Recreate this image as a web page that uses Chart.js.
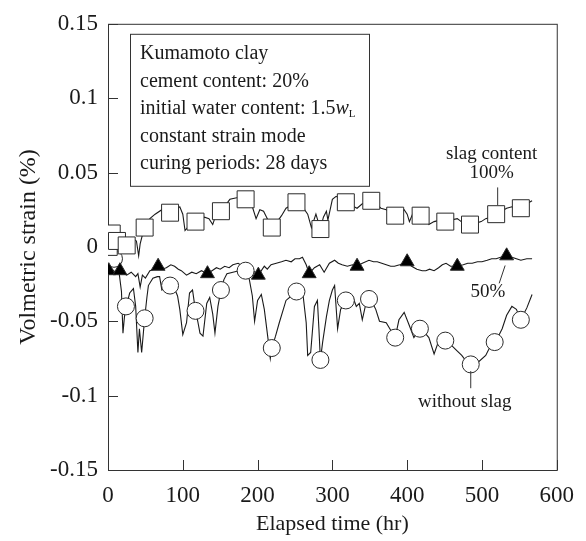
<!DOCTYPE html>
<html>
<head>
<meta charset="utf-8">
<script src="https://cdn.jsdelivr.net/npm/chart.js@4"></script>
<style>
  html, body { margin: 0; padding: 0; background: #fff; }
  #wrap { width: 586px; height: 541px; }
</style>
</head>
<body>
<div id="wrap"><canvas id="strain"></canvas></div>
<script>
// elapsed time (hr) / volumetric strain (%) for each mix
let slag100Hr = [0, 2, 4, 8, 12, 18, 25, 32, 38, 41, 43, 47, 49, 52, 56, 63, 72, 78, 83, 90, 96, 100, 103, 108, 117, 124, 129, 135, 140, 144, 151, 157, 163, 172, 178, 184, 189, 193, 198, 203, 208, 214, 219, 225, 232, 238, 245, 252, 260, 267, 272, 278, 284, 288, 292, 294, 300, 305, 312, 318, 325, 333, 340, 345, 352, 358, 365, 372, 378, 384, 390, 396, 400, 403, 408, 413, 418, 424, 429, 436, 444, 451, 458, 467, 475, 484, 492, 499, 505, 512, 519, 526, 533, 540, 546, 552, 560, 567]
let slag100 = [0.0, 0.004, 0.009, 0.006, 0.004, 0.002, 0.001, 0.006, 0.004, -0.006, 0.002, 0.010, 0.013, 0.014, 0.019, 0.022, 0.025, 0.024, 0.023, 0.025, 0.027, 0.022, 0.011, 0.014, 0.017, 0.018, 0.020, 0.019, 0.015, 0.021, 0.024, 0.028, 0.032, 0.033, 0.034, 0.032, 0.030, 0.027, 0.019, 0.025, 0.024, 0.018, 0.013, 0.016, 0.021, 0.026, 0.028, 0.030, 0.027, 0.022, 0.013, 0.022, 0.012, 0.020, 0.024, 0.018, 0.032, 0.034, 0.032, 0.030, 0.028, 0.026, 0.029, 0.030, 0.031, 0.029, 0.026, 0.025, 0.023, 0.021, 0.023, 0.025, 0.022, 0.017, 0.023, 0.022, 0.021, 0.019, 0.015, 0.017, 0.018, 0.017, 0.018, 0.019, 0.016, 0.015, 0.016, 0.017, 0.019, 0.020, 0.022, 0.024, 0.026, 0.027, 0.025, 0.026, 0.029, 0.031]
let slag100MarkHr = [1, 5, 12, 25, 49, 83, 117, 151, 184, 219, 252, 284, 318, 352, 384, 418, 451, 484, 519, 552]
let slag100Mark = [0.0, 0.009, 0.004, 0.001, 0.013, 0.023, 0.017, 0.024, 0.032, 0.013, 0.030, 0.012, 0.030, 0.031, 0.021, 0.021, 0.017, 0.015, 0.022, 0.026]

let slag50Hr = [0, 1, 5, 10, 16, 22, 25, 31, 37, 40, 43, 46, 50, 56, 62, 67, 72, 78, 84, 89, 94, 98, 105, 112, 118, 125, 133, 139, 145, 150, 156, 162, 167, 174, 180, 187, 194, 201, 209, 213, 218, 225, 232, 238, 245, 250, 256, 260, 265, 269, 276, 283, 289, 296, 303, 308, 313, 320, 327, 333, 340, 349, 355, 360, 366, 372, 378, 383, 390, 395, 400, 406, 413, 420, 425, 430, 436, 442, 447, 452, 458, 467, 475, 481, 487, 494, 500, 507, 513, 519, 525, 533, 540, 546, 552, 560, 567]
let slag50 = [-0.012, -0.016, -0.015, -0.017, -0.016, -0.018, -0.019, -0.017, -0.020, -0.018, -0.027, -0.019, -0.021, -0.016, -0.015, -0.013, -0.015, -0.014, -0.012, -0.013, -0.015, -0.016, -0.019, -0.017, -0.018, -0.016, -0.018, -0.016, -0.014, -0.015, -0.013, -0.014, -0.012, -0.011, -0.013, -0.015, -0.016, -0.019, -0.013, -0.015, -0.012, -0.011, -0.010, -0.009, -0.010, -0.008, -0.008, -0.007, -0.012, -0.018, -0.014, -0.012, -0.017, -0.011, -0.009, -0.011, -0.012, -0.013, -0.012, -0.013, -0.011, -0.009, -0.010, -0.010, -0.011, -0.012, -0.013, -0.013, -0.012, -0.011, -0.010, -0.013, -0.015, -0.016, -0.016, -0.015, -0.016, -0.014, -0.012, -0.011, -0.013, -0.013, -0.012, -0.011, -0.011, -0.010, -0.010, -0.009, -0.008, -0.008, -0.007, -0.006, -0.007, -0.008, -0.009, -0.008, -0.008]
let slag50MarkHr = [1, 16, 67, 133, 201, 269, 333, 400, 467, 533]
let slag50Mark = [-0.016, -0.016, -0.013, -0.018, -0.019, -0.018, -0.013, -0.010, -0.013, -0.006]

let noSlagHr = [0, 4, 8, 12, 15, 18, 20, 22, 24, 27, 29, 34, 37, 40, 42, 45, 49, 52, 54, 60, 66, 69, 72, 77, 83, 89, 93, 96, 100, 105, 109, 113, 117, 120, 123, 127, 132, 136, 140, 143, 147, 151, 155, 159, 167, 175, 184, 189, 193, 196, 200, 205, 209, 214, 217, 219, 224, 229, 238, 245, 252, 260, 265, 267, 271, 276, 280, 282, 284, 287, 292, 296, 300, 303, 307, 311, 318, 323, 327, 332, 336, 340, 344, 349, 354, 358, 363, 372, 378, 384, 389, 396, 403, 409, 417, 424, 429, 436, 443, 451, 459, 465, 473, 479, 485, 490, 496, 505, 512, 517, 522, 527, 533, 540, 546, 552, 556, 560, 567]
let noSlag = [0.0, -0.004, -0.008, -0.012, -0.018, -0.030, -0.058, -0.047, -0.040, -0.035, -0.031, -0.028, -0.040, -0.071, -0.055, -0.071, -0.048, -0.034, -0.026, -0.021, -0.020, -0.020, -0.029, -0.027, -0.026, -0.028, -0.033, -0.042, -0.059, -0.051, -0.031, -0.029, -0.043, -0.050, -0.058, -0.060, -0.038, -0.034, -0.045, -0.058, -0.040, -0.029, -0.022, -0.018, -0.017, -0.016, -0.016, -0.022, -0.033, -0.050, -0.036, -0.032, -0.042, -0.062, -0.075, -0.068, -0.060, -0.051, -0.036, -0.033, -0.030, -0.029, -0.051, -0.073, -0.071, -0.040, -0.036, -0.055, -0.076, -0.064, -0.047, -0.036, -0.029, -0.026, -0.055, -0.042, -0.036, -0.034, -0.033, -0.040, -0.038, -0.049, -0.040, -0.035, -0.038, -0.042, -0.050, -0.051, -0.056, -0.061, -0.049, -0.044, -0.053, -0.061, -0.055, -0.058, -0.061, -0.072, -0.062, -0.063, -0.066, -0.069, -0.073, -0.077, -0.079, -0.078, -0.077, -0.073, -0.066, -0.064, -0.060, -0.055, -0.046, -0.040, -0.042, -0.049, -0.045, -0.041, -0.032]
let noSlagMarkHr = [8, 24, 49, 83, 117, 151, 184, 219, 252, 284, 318, 349, 384, 417, 451, 485, 517, 552]
let noSlagMark = [-0.008, -0.040, -0.048, -0.026, -0.043, -0.029, -0.016, -0.068, -0.030, -0.076, -0.036, -0.035, -0.061, -0.055, -0.063, -0.079, -0.064, -0.049]

let xTicks = [0, 100, 200, 300, 400, 500, 600]
let yTicks = [-0.15, -0.1, -0.05, 0, 0.05, 0.1, 0.15]
let yTickText = ["-0.15", "-0.1", "-0.05", "0", "0.05", "0.1", "0.15"]

let infoLines = ["Kumamoto clay", "cement content: 20%", "initial water content: 1.5", "constant strain mode", "curing periods: 28 days"]

const serif = "'Liberation Serif', 'DejaVu Serif', serif"
const ink = "#1a1a1a"

function pairs(xs, ys) {
    return xs.map((x, i) => ({ x: x, y: ys[i] }))
}

function lineSet(xs, ys) {
    return {
        data: pairs(xs, ys),
        borderColor: ink,
        borderWidth: 1.1,
        pointRadius: 0,
        tension: 0,
        order: 2
    }
}

function markSet(xs, ys, style, radius, fill) {
    return {
        data: pairs(xs, ys),
        showLine: false,
        pointStyle: style,
        pointRadius: radius,
        pointBackgroundColor: fill,
        pointBorderColor: "#2a2a2a",
        pointBorderWidth: 1,
        order: 1
    }
}

// frame, inward ticks, info box and curve labels
let decorations = {
    id: "decorations",
    beforeDatasetsDraw(chart) {
        let ctx = chart.ctx
        let a = chart.chartArea
        let xs = chart.scales.x
        let ys = chart.scales.y
        ctx.save()
        ctx.strokeStyle = "#333"
        ctx.lineWidth = 1
        ctx.strokeRect(a.left + 0.5, a.top + 0.5, a.right - a.left, a.bottom - a.top)
        ctx.beginPath()
        yTicks.forEach(v => {
            let py = Math.round(ys.getPixelForValue(v)) + 0.5
            ctx.moveTo(a.left, py)
            ctx.lineTo(a.left + 10, py)
        })
        xTicks.forEach(v => {
            let px = Math.round(xs.getPixelForValue(v)) + 0.5
            ctx.moveTo(px, a.bottom)
            ctx.lineTo(px, a.bottom - 10)
        })
        ctx.stroke()
        ctx.restore()
    },
    afterDatasetsDraw(chart) {
        let ctx = chart.ctx
        let a = chart.chartArea
        let xs = chart.scales.x
        let ys = chart.scales.y
        let px = v => xs.getPixelForValue(v)
        let py = v => ys.getPixelForValue(v)
        ctx.save()

        // info box
        let boxL = a.left + 22, boxT = a.top + 10
        let boxR = boxL + 239, boxB = boxT + 152
        ctx.fillStyle = "#fff"
        ctx.fillRect(boxL, boxT, boxR - boxL, boxB - boxT)
        ctx.strokeStyle = "#333"
        ctx.lineWidth = 1
        ctx.strokeRect(boxL + 0.5, boxT + 0.5, boxR - boxL, boxB - boxT)
        ctx.fillStyle = ink
        ctx.textBaseline = "middle"
        ctx.textAlign = "left"
        infoLines.forEach((t, i) => {
            let ty = boxT + 20 + i * 27.5
            ctx.font = "20px " + serif
            ctx.fillText(t, boxL + 10, ty)
            if (i == 2) {
                let w = ctx.measureText(t).width
                ctx.font = "italic 20px " + serif
                ctx.fillText("w", boxL + 10 + w, ty)
                let ww = ctx.measureText("w").width
                ctx.font = "11px " + serif
                ctx.fillText("L", boxL + 10 + w + ww, ty + 5)
            }
        })

        // curve labels
        ctx.font = "19px " + serif
        ctx.textAlign = "center"
        ctx.fillText("slag content", px(513), py(0.0625))
        ctx.fillText("100%", px(513), py(0.050))
        ctx.fillText("50%", px(508), py(-0.030))
        ctx.fillText("without slag", px(477), py(-0.104))

        ctx.strokeStyle = "#333"
        ctx.beginPath()
        ctx.moveTo(px(521), py(0.040))
        ctx.lineTo(px(521), py(0.028))
        ctx.moveTo(px(531), py(-0.0125))
        ctx.lineTo(px(523), py(-0.0245))
        ctx.moveTo(px(485), py(-0.0835))
        ctx.lineTo(px(485), py(-0.095))
        ctx.stroke()
        ctx.restore()
    }
}

new Chart(document.getElementById("strain"), {
    type: "line",
    data: {
        datasets: [
            markSet(slag100MarkHr, slag100Mark, "rect", 12, "#fff"),
            markSet(slag50MarkHr, slag50Mark, "triangle", 8, "#000"),
            markSet(noSlagMarkHr, noSlagMark, "circle", 8.5, "#fff"),
            lineSet(slag100Hr, slag100),
            lineSet(slag50Hr, slag50),
            lineSet(noSlagHr, noSlag)
        ]
    },
    options: {
        responsive: true,
        maintainAspectRatio: false,
        animation: false,
        events: [],
        layout: { padding: { top: 17, right: 28, bottom: 0, left: 0 } },
        plugins: {
            legend: { display: false },
            tooltip: { enabled: false }
        },
        scales: {
            x: {
                type: "linear",
                min: 0,
                max: 600,
                afterBuildTicks: s => { s.ticks = xTicks.map(v => ({ value: v })) },
                afterFit: s => { s.height = 71 },
                grid: { display: false, drawTicks: false },
                border: { display: false },
                ticks: { color: ink, padding: 12, maxRotation: 0, font: { family: serif, size: 23 } },
                title: { display: true, text: "Elapsed time (hr)", color: ink, padding: { top: 0, bottom: 4 }, font: { family: serif, size: 22 } }
            },
            y: {
                min: -0.15,
                max: 0.15,
                afterBuildTicks: s => { s.ticks = yTicks.map(v => ({ value: v })) },
                afterFit: s => { s.width = 108 },
                grid: { display: false, drawTicks: false },
                border: { display: false },
                ticks: {
                    color: ink,
                    padding: 10,
                    font: { family: serif, size: 23 },
                    callback: v => yTickText[yTicks.findIndex(t => Math.abs(t - v) < 1e-9)]
                },
                title: { display: true, text: "Volmetric strain (%)", color: ink, padding: { top: 14, bottom: 0 }, font: { family: serif, size: 24 } }
            }
        }
    },
    plugins: [decorations]
})
</script>
</body>
</html>
